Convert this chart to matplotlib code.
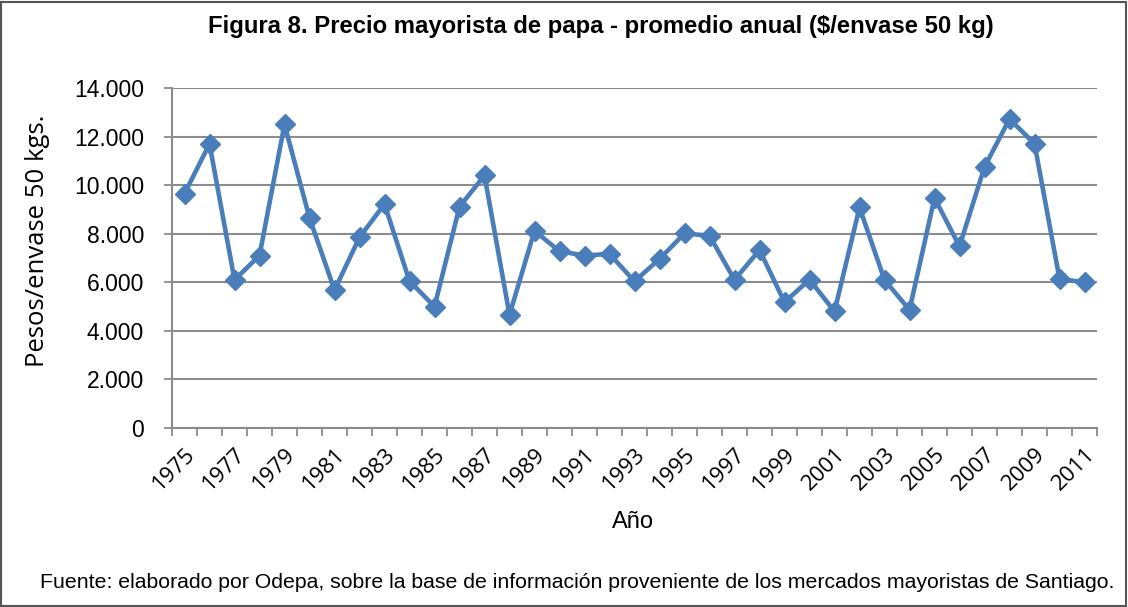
import matplotlib
matplotlib.use("Agg")
import matplotlib.pyplot as plt
from matplotlib.patches import Rectangle

plt.rcParams['font.family'] = ['Liberation Sans', 'DejaVu Sans']

years = list(range(1975, 2012))
prices = [9650, 11700, 6100, 7100, 12500, 8650, 5680, 7850, 9220, 6050,
          5000, 9110, 10400, 4660, 8120, 7280, 7100, 7170, 6040, 6960,
          8010, 7920, 6100, 7330, 5180, 6110, 4800, 9080, 6100, 4860,
          9470, 7480, 10750, 12720, 11710, 6140, 6000]
yticks = [0, 2000, 4000, 6000, 8000, 10000, 12000, 14000]
ytick_labels = ['0', '2.000', '4.000', '6.000', '8.000', '10.000', '12.000', '14.000']

title = 'Figura 8. Precio mayorista de papa - promedio anual ($/envase 50 kg)'
ylabel = 'Pesos/envase 50 kgs.'
xlabel = 'Año'
source = 'Fuente: elaborado por Odepa, sobre la base de información proveniente de los mercados mayoristas de Santiago.'

W, H = 1128, 607
fig = plt.figure(figsize=(W/100, H/100), dpi=100)
ax = fig.add_axes([172/W, 1-428/H, (1097-172)/W, (428-88)/H])

xs = list(range(len(years)))
ax.plot(xs, prices, color='#4a7ebb', lw=3.3, marker='D', markersize=10,
        markerfacecolor='#4a7ebb', markeredgecolor='#4a7ebb', zorder=3)

ax.set_xlim(-0.5, len(years) - 0.5)
ax.set_ylim(0, 14000)
ax.set_yticks(yticks)
ax.set_yticklabels(ytick_labels, fontsize=16.5)
ax.yaxis.grid(True, color='#8c8c8c', lw=1.5)
ax.set_axisbelow(True)

ax.set_xticks([i - 0.5 for i in range(len(years) + 1)], minor=True)
ax.set_xticks(xs[::2])
ax.set_xticklabels([str(y) for y in years[::2]], rotation=45, ha='right',
                   rotation_mode='anchor', fontsize=16, family=['Open Sans', 'DejaVu Sans'])
ax.tick_params(axis='x', which='major', length=0, pad=11)
ax.tick_params(axis='x', which='minor', length=6, color='#8c8c8c', width=1.3)
ax.tick_params(axis='y', length=6, color='#8c8c8c', width=1.3, pad=14)

for s in ['top', 'right']:
    ax.spines[s].set_visible(False)
for s in ['left', 'bottom']:
    ax.spines[s].set_color('#8c8c8c')
    ax.spines[s].set_linewidth(1.5)

fig.text(601/W, 1-27/H, title, ha='center', va='center', fontsize=17.2, fontweight='bold')
fig.text(38/W, 1-241/H, ylabel, ha='center', va='center', rotation=90, fontsize=18.5,
         family=['Open Sans', 'DejaVu Sans'])
fig.text(633/W, 1-522/H, xlabel, ha='center', va='center', fontsize=17)
fig.text(577/W, 1-583/H, source, ha='center', va='center', fontsize=15.3)

fig.patches.append(Rectangle((1/W, 1/H), 1-3/W, 1-3/H, transform=fig.transFigure,
                             fill=False, edgecolor='#555555', lw=1.5))

fig.savefig('out.png', dpi=100)
